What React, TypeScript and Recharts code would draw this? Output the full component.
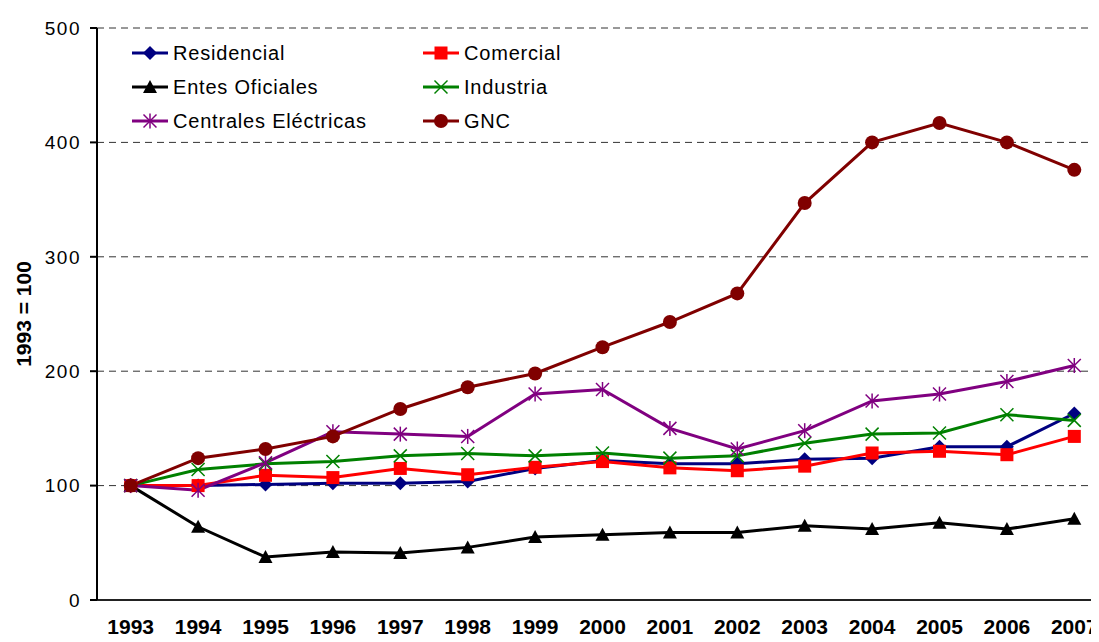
import React from "react";
import { LineChart, Line, XAxis, YAxis, CartesianGrid, Legend } from "recharts";

// índice de consumo por sector, 1993 = 100
const years = [1993, 1994, 1995, 1996, 1997, 1998, 1999, 2000, 2001, 2002, 2003, 2004, 2005, 2006, 2007];
const residencial = [100, 100, 101, 102, 102, 103.5, 115, 122, 119, 119, 123, 124, 134, 134, 163];
const comercial = [100, 100, 109, 107, 115, 109.5, 116, 121, 115.5, 113, 117, 128.5, 130, 127, 143];
const entesOficiales = [100, 64, 37.5, 42, 41, 46, 55, 57, 59, 59, 65, 62, 67.5, 62, 71];
const industria = [100, 114, 119, 121, 126, 128, 126, 128.5, 124, 126, 137, 145, 146, 162, 157];
const centrales = [100, 96, 120, 147, 145, 143, 180, 184, 150, 132, 148, 174, 180, 191, 205];
const gnc = [100, 124, 132, 143, 167, 186, 198, 221, 243, 268, 347, 400, 417, 400, 376];
const yTicks = [0, 100, 200, 300, 400, 500];

// marcas de división entre años
const yearEdges = [...years.map((y) => y - 0.5), years[years.length - 1] + 0.5];

type Shape = "diamond" | "square" | "triangle" | "x" | "star" | "circle";

const series: { key: string; name: string; color: string; shape: Shape }[] = [
  { key: "residencial", name: "Residencial", color: "#000080", shape: "diamond" },
  { key: "comercial", name: "Comercial", color: "#FF0000", shape: "square" },
  { key: "entes", name: "Entes Oficiales", color: "#000000", shape: "triangle" },
  { key: "industria", name: "Industria", color: "#008000", shape: "x" },
  { key: "centrales", name: "Centrales Eléctricas", color: "#800080", shape: "star" },
  { key: "gnc", name: "GNC", color: "#800000", shape: "circle" },
];

const data = years.map((year, i) => ({
  year,
  residencial: residencial[i],
  comercial: comercial[i],
  entes: entesOficiales[i],
  industria: industria[i],
  centrales: centrales[i],
  gnc: gnc[i],
}));

const FONT = '"Liberation Sans", Arial, sans-serif';

function Marker({ cx, cy, shape, color }: { cx: number; cy: number; shape: Shape; color: string }) {
  const s = 7;
  switch (shape) {
    case "diamond":
      return <path d={`M${cx},${cy - s} L${cx + s},${cy} L${cx},${cy + s} L${cx - s},${cy} Z`} fill={color} />;
    case "square":
      return <rect x={cx - 6.5} y={cy - 6.5} width={13} height={13} fill={color} />;
    case "triangle":
      return <path d={`M${cx},${cy - 7} L${cx + 7},${cy + 6} L${cx - 7},${cy + 6} Z`} fill={color} />;
    case "x":
      return (
        <g stroke={color} strokeWidth={1.5}>
          <line x1={cx - 6.5} y1={cy - 6.5} x2={cx + 6.5} y2={cy + 6.5} />
          <line x1={cx - 6.5} y1={cy + 6.5} x2={cx + 6.5} y2={cy - 6.5} />
        </g>
      );
    case "star":
      return (
        <g stroke={color} strokeWidth={1.5}>
          <line x1={cx - 6.5} y1={cy - 6.5} x2={cx + 6.5} y2={cy + 6.5} />
          <line x1={cx - 6.5} y1={cy + 6.5} x2={cx + 6.5} y2={cy - 6.5} />
          <line x1={cx} y1={cy - 7.5} x2={cx} y2={cy + 7.5} />
        </g>
      );
    default:
      return <circle cx={cx} cy={cy} r={7} fill={color} />;
  }
}

function LegendBox() {
  return (
    <div
      style={{
        display: "grid",
        gridTemplateColumns: "291px 200px",
        gridAutoRows: "34px",
        fontFamily: FONT,
        fontSize: 20,
        letterSpacing: 0.8,
        color: "#000",
      }}
    >
      {series.map((s) => (
        <div key={s.key} style={{ display: "flex", alignItems: "center" }}>
          <svg width={36} height={16} style={{ marginRight: 5 }}>
            <line x1={0} y1={8} x2={36} y2={8} stroke={s.color} strokeWidth={3} />
            <Marker cx={18} cy={8} shape={s.shape} color={s.color} />
          </svg>
          <span>{s.name}</span>
        </div>
      ))}
    </div>
  );
}

export default function App() {
  return (
    <div style={{ margin: -8, width: 1099, height: 642, overflow: "hidden", background: "#fff" }}>
      <LineChart width={1120} height={642} data={data} margin={{ top: 28, right: 12, bottom: 40, left: 0 }}>
        <CartesianGrid vertical={false} stroke="#333" strokeDasharray="7 5" />
        <XAxis
          type="number"
          dataKey="year"
          domain={[yearEdges[0], yearEdges[yearEdges.length - 1]]}
          ticks={yearEdges}
          interval={0}
          height={1}
          tick={false}
          tickSize={7}
          stroke="#222"
          strokeWidth={2}
        />
        <XAxis
          xAxisId="labels"
          type="number"
          dataKey="year"
          domain={[yearEdges[0], yearEdges[yearEdges.length - 1]]}
          ticks={years}
          interval={0}
          height={1}
          axisLine={false}
          tickLine={false}
          tickSize={7}
          tickMargin={11}
          tick={{ fill: "#000", fontSize: 21, fontWeight: "bold", fontFamily: FONT }}
        />
        <YAxis
          domain={[0, 500]}
          ticks={yTicks}
          width={97}
          tickSize={7}
          tickMargin={9}
          stroke="#000"
          strokeWidth={2}
          tick={{ fill: "#000", fontSize: 19, fontFamily: FONT, letterSpacing: 1.5 }}
          label={{
            content: ({ viewBox }: any) => {
              const x = viewBox.x + 23;
              const y = viewBox.y + viewBox.height / 2;
              return (
                <text
                  x={x}
                  y={y}
                  transform={`rotate(-90, ${x}, ${y})`}
                  textAnchor="middle"
                  dominantBaseline="central"
                  fontFamily={FONT}
                  fontSize={21}
                  fontWeight="bold"
                  fill="#000"
                >
                  1993 = 100
                </text>
              );
            },
          }}
        />
        <Legend
          layout="horizontal"
          verticalAlign="middle"
          align="center"
          wrapperStyle={{ top: 36, left: 132, width: 520 }}
          content={() => <LegendBox />}
        />
        {series.map((s) => (
          <Line
            key={s.key}
            dataKey={s.key}
            name={s.name}
            stroke={s.color}
            strokeWidth={3}
            isAnimationActive={false}
            activeDot={false}
            dot={(p: any) => <Marker key={`${s.key}-${p.index}`} cx={p.cx} cy={p.cy} shape={s.shape} color={s.color} />}
          />
        ))}
      </LineChart>
    </div>
  );
}
